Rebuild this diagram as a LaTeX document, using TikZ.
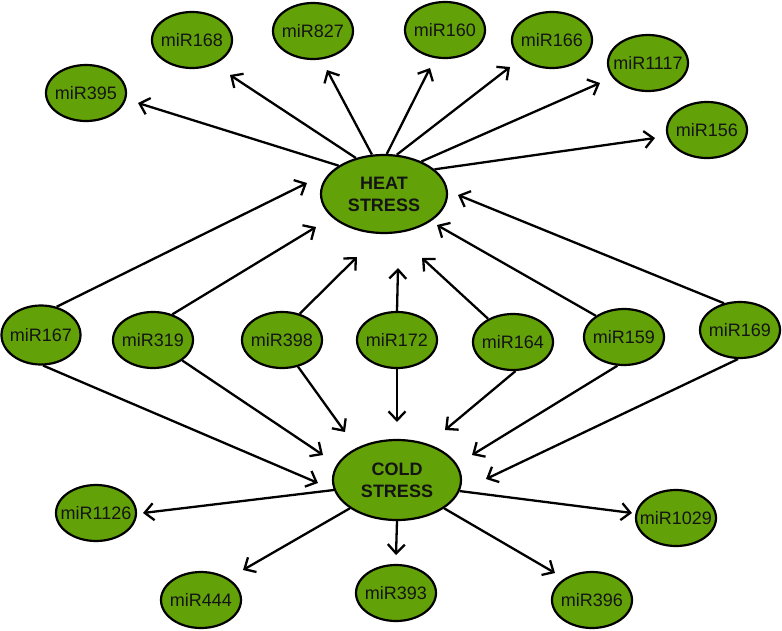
\documentclass[tikz,border=0pt]{standalone}
\usepackage{fontspec}
\setmainfont{Liberation Sans}
\usetikzlibrary{shapes.geometric,arrows.meta}
\definecolor{gin}{RGB}{98,162,8}
\definecolor{gmid}{RGB}{80,136,4}
\definecolor{gout}{RGB}{40,76,0}
\definecolor{txt}{RGB}{20,20,20}
\pgfdeclareradialshading{rim}{\pgfpoint{0bp}{0bp}}{color(0bp)=(gin); color(27bp)=(gin); color(32bp)=(gmid); color(36bp)=(gout); color(100bp)=(gout)}
\newcommand\zw[1]{\makebox[0pt]{#1}}
\begin{document}
\begin{tikzpicture}[x=1pt,y=-1pt,
  mi/.style={ellipse, draw=black, line width=2.2pt, shade, shading=rim, minimum width=80pt, minimum height=56pt, inner sep=0pt, text=txt, font=\fontsize{18}{20}\selectfont},
  big/.style={mi, minimum width=126pt, minimum height=78pt, font=\bfseries\fontsize{18}{22}\selectfont, align=center},
  arr/.style={line width=2.3pt, draw=black, -{Straight Barb[length=9pt,width=17pt]}}]
\useasboundingbox (0,0) rectangle (782,630);
% top row
\node[mi] (m395) at (86,93) {\zw{miR395}};
\node[mi] (m168) at (192,40) {\zw{miR168}};
\node[mi] (m827) at (313,31) {\zw{miR827}};
\node[mi] (m160) at (445,30) {\zw{miR160}};
\node[mi] (m166) at (552,40) {\zw{miR166}};
\node[mi] (m1117) at (648,63) {\zw{miR1117}};
\node[mi] (m156) at (707,130) {\zw{miR156}};
% centres
\node[big] (heat) at (384,194) {HEAT\\STRESS};
\node[big, minimum width=128pt, minimum height=80pt] (cold) at (397,480) {COLD\\STRESS};
% middle row
\node[mi, minimum height=59pt, minimum width=79pt] (m167) at (41,335) {\zw{miR167}};
\node[mi] (m319) at (153,340) {\zw{miR319}};
\node[mi] (m398) at (282,340) {\zw{miR398}};
\node[mi] (m172) at (397,340) {\zw{miR172}};
\node[mi] (m164) at (513,342) {\zw{miR164}};
\node[mi] (m159) at (624,337) {\zw{miR159}};
\node[mi] (m169) at (740,330) {\zw{miR169}};
% bottom
\node[mi] (m1126) at (96,513) {\zw{miR1126}};
\node[mi] (m444) at (201,600) {\zw{miR444}};
\node[mi] (m393) at (396,593) {\zw{miR393}};
\node[mi] (m396) at (592,600) {\zw{miR396}};
\node[mi] (m1029) at (676,518) {\zw{miR1029}};
% arrow tips (free ends)
\coordinate (t395) at (138,103);
\coordinate (t168) at (230,75);
\coordinate (t827) at (327,70);
\coordinate (t160) at (430,68);
\coordinate (t166) at (510,67);
\coordinate (t1117) at (600,83);
\coordinate (t156) at (655,138);
\coordinate (h167) at (307,183);
\coordinate (h319) at (316,227);
\coordinate (h398) at (357,257);
\coordinate (h172) at (398,268);
\coordinate (h164) at (422,258);
\coordinate (h159) at (437,225);
\coordinate (h169) at (458,195);
\coordinate (c167) at (318,483);
\coordinate (c319) at (323,455);
\coordinate (c398) at (345,432);
\coordinate (c172) at (397,422);
\coordinate (c164) at (445,430);
\coordinate (c159) at (472,455);
\coordinate (c169) at (486,479);
\coordinate (o1126) at (143,513);
\coordinate (o444) at (243,570);
\coordinate (o393) at (396,555);
\coordinate (o396) at (555,573);
\coordinate (o1029) at (632,513);
% heat outgoing
\draw[arr] (heat.148) -- (t395);
\draw[arr] (heat.128) -- (t168);
\draw[arr] (heat.107) -- (t827);
\draw[arr] (heat.86) -- (t160);
\draw[arr] (heat.72) -- (t166);
\draw[arr] (heat.41) -- (t1117);
\draw[arr] (heat.26) -- (t156);
% middle to heat
\draw[arr] (m167.61) -- (h167);
\draw[arr] (m319.53) -- (h319);
\draw[arr] (m398.56) -- (h398);
\draw[arr] (m172.90) -- (h172);
\draw[arr] (m164.137) -- (h164);
\draw[arr] (m159.143) -- (h159);
\draw[arr] (m169.121) -- (h169);
% middle to cold
\draw[arr] (m167.-86) -- (c167);
\draw[arr] (m319.-35) -- (c319);
\draw[arr] (m398.-59) -- (c398);
\draw[arr] (m172.-90) -- (c172);
\draw[arr] (m164.-85) -- (c164);
\draw[arr] (m159.-103) -- (c159);
\draw[arr] (m169.-94) -- (c169);
% cold outgoing
\draw[arr] (cold.-171) -- (o1126);
\draw[arr] (cold.-149) -- (o444);
\draw[arr] (cold.-90) -- (o393);
\draw[arr] (cold.-31) -- (o396);
\draw[arr] (cold.-10) -- (o1029);
\end{tikzpicture}
\end{document}
